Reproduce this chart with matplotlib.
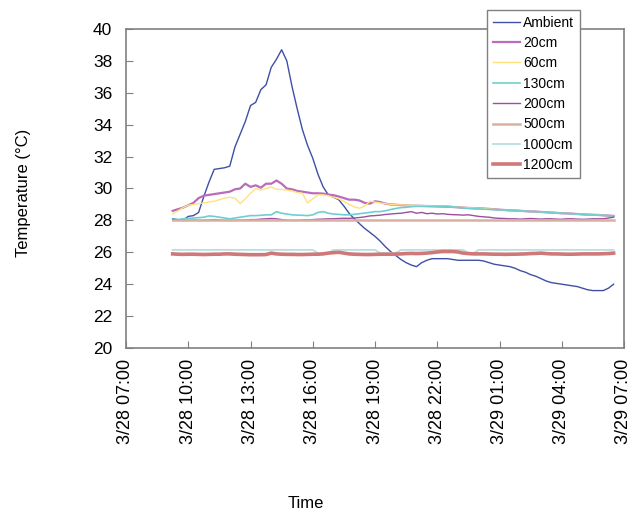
import matplotlib
matplotlib.use("Agg")
import matplotlib.pyplot as plt
import matplotlib.dates as mdates
import pandas as pd

plt.rcParams['font.family'] = ['Liberation Sans', 'DejaVu Sans']

# samples every 15 min, 3/28 09:15 -> 3/29 06:30
times = pd.date_range('2009-03-28 09:15', periods=86, freq='15min')

ambient = [28.1, 28.05, 28.0, 28.25, 28.3, 28.5, 29.5, 30.4, 31.2, 31.25,
           31.3, 31.4, 32.6, 33.4, 34.2, 35.2, 35.4, 36.2, 36.5, 37.6,
           38.1, 38.7, 38.0, 36.4, 35.0, 33.7, 32.7, 31.9, 30.9, 30.1,
           29.6, 29.45, 29.3, 28.9, 28.45, 28.1, 27.8, 27.5, 27.25, 27.0,
           26.7, 26.35, 26.05, 25.8, 25.55, 25.35, 25.2, 25.1, 25.35, 25.5,
           25.6, 25.6, 25.6, 25.6, 25.55, 25.5, 25.5, 25.5, 25.5, 25.5,
           25.45, 25.35, 25.25, 25.2, 25.15, 25.1, 25.0, 24.85, 24.75, 24.6,
           24.5, 24.35, 24.2, 24.1, 24.05, 24.0, 23.95, 23.9, 23.85, 23.75,
           23.65, 23.6, 23.6, 23.6, 23.75, 24.0]

cm20 = [28.6, 28.7, 28.8, 28.95, 29.1, 29.4, 29.55, 29.6, 29.65, 29.7,
        29.75, 29.8, 29.95, 30.0, 30.3, 30.1, 30.2, 30.05, 30.3, 30.3,
        30.5, 30.3, 30.0, 29.95, 29.85, 29.8, 29.75, 29.7, 29.7, 29.68,
        29.62, 29.58, 29.5, 29.4, 29.3, 29.3, 29.25, 29.1, 29.05, 29.2,
        29.15, 29.05, 29.0, 28.98, 28.96, 28.94, 28.93, 28.92, 28.91, 28.9,
        28.89, 28.88, 28.87, 28.86, 28.84, 28.82, 28.8, 28.78, 28.77, 28.76,
        28.74, 28.72, 28.7, 28.67, 28.65, 28.63, 28.62, 28.6, 28.58, 28.56,
        28.55, 28.53, 28.51, 28.49, 28.47, 28.45, 28.44, 28.42, 28.4, 28.38,
        28.36, 28.35, 28.34, 28.32, 28.3, 28.28]

cm60 = [28.4, 28.6, 28.8, 28.95, 29.0, 29.05, 29.1, 29.15, 29.2, 29.3,
        29.4, 29.45, 29.4, 29.05, 29.35, 29.7, 30.0, 29.9, 30.0, 30.1,
        29.95, 29.95, 29.9, 29.85, 29.75, 29.7, 29.1, 29.35, 29.6, 29.6,
        29.55, 29.45, 29.35, 29.2, 29.0, 28.85, 28.76, 28.9, 29.2, 29.15,
        29.1, 29.05, 29.0, 28.98, 28.97, 28.96, 28.95, 28.94, 28.93, 28.92,
        28.91, 28.9, 28.89, 28.87, 28.85, 28.83, 28.81, 28.79, 28.78, 28.76,
        28.74, 28.72, 28.7, 28.67, 28.65, 28.63, 28.62, 28.6, 28.58, 28.56,
        28.55, 28.53, 28.51, 28.49, 28.47, 28.45, 28.44, 28.42, 28.4, 28.38,
        28.36, 28.35, 28.34, 28.32, 28.3, 28.28]

cm130 = [28.07, 28.05, 28.1, 28.12, 28.15, 28.17, 28.2, 28.28, 28.25, 28.2,
         28.15, 28.1, 28.15, 28.2, 28.25, 28.3, 28.3, 28.32, 28.35, 28.35,
         28.55, 28.45, 28.4, 28.35, 28.33, 28.32, 28.3, 28.35, 28.5, 28.55,
         28.45, 28.4, 28.38, 28.35, 28.35, 28.38, 28.42, 28.46, 28.5, 28.55,
         28.55, 28.6, 28.68, 28.75, 28.8, 28.82, 28.86, 28.88, 28.88, 28.88,
         28.88, 28.88, 28.88, 28.88, 28.85, 28.82, 28.78, 28.75, 28.73, 28.72,
         28.7, 28.69, 28.68, 28.66, 28.65, 28.63, 28.62, 28.6, 28.58, 28.56,
         28.55, 28.53, 28.51, 28.49, 28.47, 28.45, 28.44, 28.42, 28.4, 28.38,
         28.36, 28.35, 28.34, 28.32, 28.3, 28.28]

cm200 = [28.05, 28.02, 28.0, 28.0, 28.02, 28.0, 28.0, 28.02, 28.05, 28.02,
         28.0, 28.0, 28.0, 28.02, 28.02, 28.05, 28.05, 28.08, 28.1, 28.12,
         28.1, 28.05, 28.02, 28.0, 28.0, 28.02, 28.03, 28.05, 28.07, 28.08,
         28.1, 28.1, 28.12, 28.13, 28.13, 28.15, 28.18, 28.22, 28.28, 28.3,
         28.33, 28.37, 28.4, 28.43, 28.45, 28.5, 28.55, 28.45, 28.5, 28.42,
         28.45, 28.4, 28.42, 28.38, 28.36, 28.35, 28.33, 28.35, 28.3, 28.25,
         28.22, 28.2, 28.15, 28.13, 28.12, 28.1, 28.1, 28.08, 28.1, 28.12,
         28.1, 28.08, 28.1, 28.1, 28.08, 28.07, 28.1, 28.1, 28.08, 28.07,
         28.08, 28.1, 28.1, 28.1, 28.15, 28.2]

cm500 = [28.0] * 86

cm1000 = [26.15] * 28 + [25.95] * 3 + [26.15] * 9 + [25.95] * 4 + \
         [26.15] * 13 + [25.95] * 2 + [26.15] * 27

cm1200 = [25.9, 25.88, 25.87, 25.88, 25.88, 25.87, 25.86, 25.87, 25.88, 25.88,
          25.9, 25.9, 25.88, 25.87, 25.86, 25.85, 25.85, 25.85, 25.86, 25.95,
          25.9, 25.88, 25.87, 25.87, 25.86, 25.86, 25.87, 25.88, 25.88, 25.9,
          25.95, 25.98, 26.0, 25.95, 25.9, 25.88, 25.87, 25.86, 25.86, 25.87,
          25.88, 25.88, 25.88, 25.89, 25.9, 25.92, 25.93, 25.92, 25.93, 25.95,
          25.98, 26.02, 26.05, 26.05, 26.05, 26.02, 25.95, 25.92, 25.9, 25.9,
          25.9, 25.89, 25.88, 25.88, 25.87, 25.88, 25.88, 25.89, 25.9, 25.92,
          25.93, 25.95, 25.92, 25.9, 25.9, 25.89, 25.88, 25.88, 25.89, 25.9,
          25.9, 25.9, 25.9, 25.91, 25.92, 25.95]

series = [
    ("Ambient", ambient, "#3F4FA6", 1.0),
    ("20cm", cm20, "#BA6BBA", 1.6),
    ("60cm", cm60, "#FFE27A", 1.0),
    ("130cm", cm130, "#6FCFCF", 1.2),
    ("200cm", cm200, "#9A4F9F", 1.0),
    ("500cm", cm500, "#D9B0A0", 1.8),
    ("1000cm", cm1000, "#B8DFE3", 1.3),
    ("1200cm", cm1200, "#D07878", 2.6),
]

fig = plt.figure(figsize=(6.44, 5.13), dpi=100)
ax = fig.add_axes([126 / 644, 1 - 348 / 513, 498 / 644, 319 / 513])

for name, vals, col, lw in series:
    ax.plot(times, vals, color=col, lw=lw, label=name)

ax.set_xlim(pd.Timestamp('2009-03-28 07:00'), pd.Timestamp('2009-03-29 07:00'))
ax.set_ylim(20, 40)
ax.set_yticks(range(20, 41, 2))
ax.xaxis.set_major_locator(mdates.HourLocator(byhour=range(1, 24, 3)))


def fmt_time(x, pos=None):
    d = mdates.num2date(x)
    return f"{d.month}/{d.day} {d:%H:%M}"


ax.xaxis.set_major_formatter(plt.FuncFormatter(fmt_time))
ax.tick_params(axis='x', rotation=90, direction='in', length=5,
               color='#808080', labelsize=13, pad=8)
ax.tick_params(axis='y', direction='in', length=5, color='#808080',
               labelsize=12.5, pad=10)
for sp in ax.spines.values():
    sp.set_color('#808080')
    sp.set_linewidth(1.2)

fig.text(24 / 644, 1 - 193 / 513, "Temperature (°C)", rotation=90,
         ha='center', va='center', fontsize=12)
fig.text(306 / 644, 1 - 503 / 513, "Time", ha='center', va='center',
         fontsize=12)

leg = fig.legend(loc='upper left', bbox_to_anchor=(487 / 644, 1 - 10 / 513),
                 fontsize=10, frameon=True, fancybox=False, framealpha=1,
                 edgecolor='#808080', handlelength=2.0, handletextpad=0.2,
                 labelspacing=0.46, borderpad=0.4, borderaxespad=0)
leg.get_frame().set_linewidth(1.0)

fig.savefig("out.png", dpi=100)
